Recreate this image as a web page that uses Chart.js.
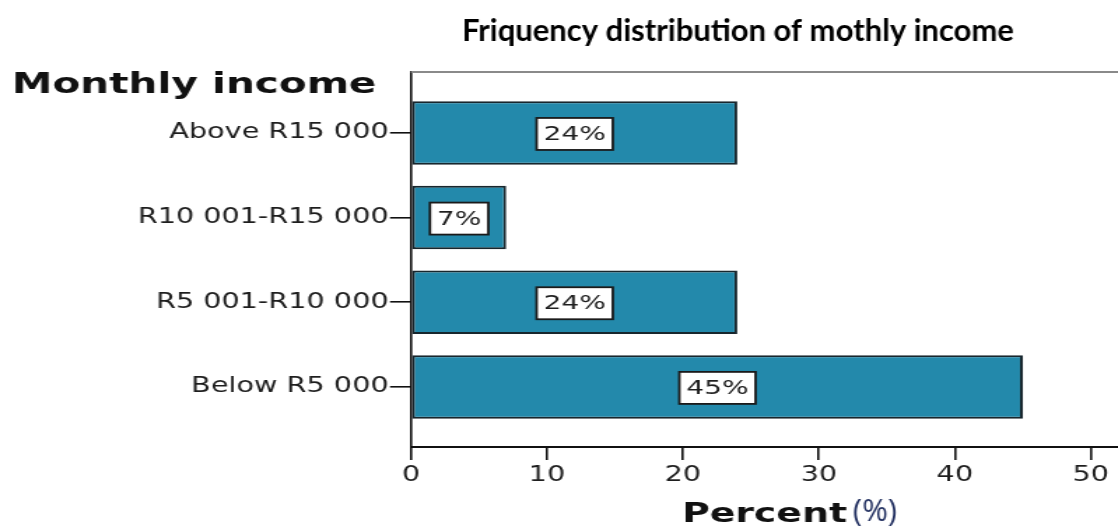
<!DOCTYPE html>
<html>
<head>
<meta charset="utf-8">
<script src="https://cdn.jsdelivr.net/npm/chart.js@4/dist/chart.umd.min.js"></script>
<style>
html,body{margin:0;padding:0;background:#fff;overflow:hidden;width:1118px;height:529px;}
#wrap{position:absolute;left:0;top:0;width:799px;height:529px;transform:scaleX(1.3992);transform-origin:0 0;}
</style>
</head>
<body>
<div id="wrap"><canvas id="c"></canvas></div>
<script>
// ---- data (top to bottom as shown) ----
const categories = ["Above R15 000", "R10 001-R15 000", "R5 001-R10 000", "Below R5 000"];
const percents = [24, 7, 24, 45];
const xTickValues = [0, 10, 20, 30, 40, 50];
const chartTitle = "Friquency distribution of mothly income";
const yAxisTitle = "Monthly income";
const xAxisTitle = "Percent";
const xAxisUnit = "(%)";

const S = 1118 / 799; // horizontal stretch of the rendering
const n = categories.length;
const positions = categories.map((_, i) => n - i);
const points = percents.map((v, i) => ({ x: v, y: positions[i] }));

const tickFont = { family: "DejaVu Sans", size: 20.5 };

const overlay = {
  id: 'overlay',
  afterDatasetsDraw(chart) {
    const ctx = chart.ctx;
    const meta = chart.getDatasetMeta(0);
    ctx.save();
    ctx.font = '20px "DejaVu Sans"';
    ctx.textAlign = 'center';
    ctx.textBaseline = 'middle';
    meta.data.forEach((el, i) => {
      const p = el.getProps(['x', 'y', 'base'], true);
      const cx = (p.x + p.base) / 2;
      const cy = p.y + 1;
      const txt = percents[i] + '%';
      const w = ctx.measureText(txt).width + 10;
      const h = 32;
      ctx.fillStyle = '#ffffff';
      ctx.fillRect(cx - w / 2, cy - h / 2, w, h);
      ctx.lineWidth = 1.8;
      ctx.strokeStyle = '#1a1a1a';
      ctx.strokeRect(cx - w / 2, cy - h / 2, w, h);
      ctx.fillStyle = '#1e1e1e';
      ctx.fillText(txt, cx, cy + 1);
    });
    ctx.restore();
  },
  afterDraw(chart) {
    const ctx = chart.ctx;
    const a = chart.chartArea;
    ctx.save();
    // top frame line
    ctx.strokeStyle = '#8a8a8a';
    ctx.lineWidth = 2;
    ctx.beginPath();
    ctx.moveTo(a.left, a.top);
    ctx.lineTo(chart.width, a.top);
    ctx.stroke();
    // y axis title (stretched like the rest)
    ctx.fillStyle = '#111';
    ctx.font = 'bold 29px "DejaVu Sans"';
    ctx.textAlign = 'left';
    ctx.textBaseline = 'alphabetic';
    ctx.fillText(yAxisTitle, 12 / S, 93);
    // unstretched texts
    ctx.scale(1 / S, 1);
    ctx.fillStyle = '#000';
    ctx.font = 'bold 31px Lato';
    ctx.textAlign = 'center';
    ctx.fillText(chartTitle, 738, 41);
    ctx.fillStyle = '#1c2a5c';
    ctx.font = '31px "Open Sans"';
    ctx.textAlign = 'left';
    ctx.fillText(xAxisUnit, 853, 521);
    ctx.restore();
  }
};

new Chart(document.getElementById('c'), {
  type: 'bar',
  data: {
    datasets: [{
      data: points,
      backgroundColor: '#2389ab',
      borderColor: '#17262d',
      borderWidth: 2,
      borderSkipped: false,
      categoryPercentage: 1,
      barPercentage: 0.75
    }]
  },
  options: {
    indexAxis: 'y',
    responsive: true,
    maintainAspectRatio: false,
    animation: false,
    layout: { padding: { top: 72, left: 0, right: 0, bottom: 0 } },
    plugins: { legend: { display: false }, tooltip: { enabled: false }, title: { display: false } },
    scales: {
      x: {
        type: 'linear',
        min: 0,
        max: 52,
        afterBuildTicks: (s) => { s.ticks = xTickValues.map(v => ({ value: v })); },
        afterFit: (s) => { s.height = 82; },
        grid: { drawOnChartArea: false, drawTicks: true, tickLength: 13, color: '#111', lineWidth: 1.6 },
        border: { display: true, color: '#111', width: 2 },
        ticks: { font: tickFont, color: '#1e1e1e', padding: 3, maxRotation: 0 },
        title: {
          display: true, text: xAxisTitle, color: '#111',
          font: { family: "DejaVu Sans", size: 27, weight: 'bold', lineHeight: 1 },
          padding: { top: 0, bottom: 1 }
        }
      },
      y: {
        type: 'linear',
        offset: false,
        min: 0.29,
        max: 4.72,
        afterBuildTicks: (s) => { s.ticks = positions.map(v => ({ value: v })); },
        afterFit: (s) => { s.width = 411 / S; },
        grid: { offset: false, drawOnChartArea: false, drawTicks: true, tickLength: 15, color: '#111', lineWidth: 1.6 },
        border: { display: true, color: '#111', width: 1.6 },
        ticks: {
          font: tickFont, color: '#1e1e1e', padding: 1,
          callback: (v) => categories[n - v]
        }
      }
    }
  },
  plugins: [overlay]
});
</script>
</body>
</html>
